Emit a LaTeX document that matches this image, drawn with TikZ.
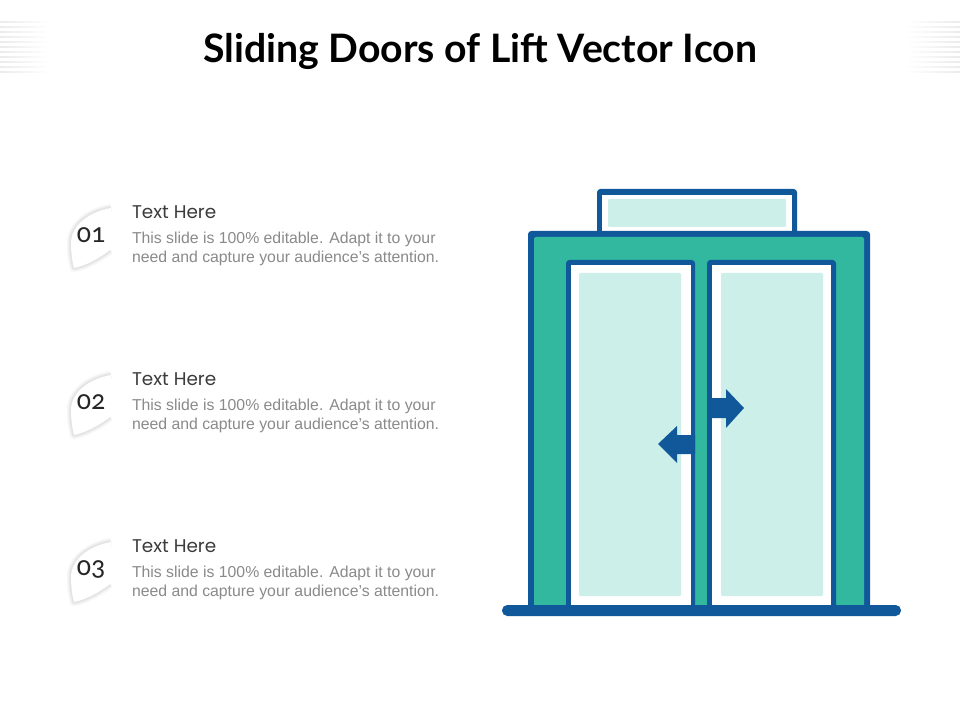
\documentclass[tikz,border=0pt]{standalone}
\usepackage{fontspec}
\setmainfont{Liberation Sans}
\newfontfamily\titlefont{Lato}
\newfontfamily\headfont{Poppins}
\newfontfamily\numfont[Numbers=OldStyle]{Carlito}
\definecolor{liftblue}{HTML}{11589B}
\definecolor{liftteal}{HTML}{31B89F}
\definecolor{liftpale}{HTML}{CCF0E9}
\definecolor{bodygrey}{HTML}{8A8A8A}
\definecolor{headgrey}{HTML}{3C3C3C}
\definecolor{stripegrey}{HTML}{EBEBEB}
\begin{document}
\begin{tikzpicture}[
            x = 0.75pt,
            y = -0.75pt,
            line width = 0pt,
            panel/.style = {fill=liftblue, rounded corners=2.5pt},
            glass/.style = {fill=liftpale, rounded corners=0.8pt},
            headtext/.style = {anchor=west, inner sep=0pt, font=\headfont\fontsize{13.8}{16}\selectfont, text=headgrey},
            bodytext/.style = {anchor=north west, inner sep=0pt, align=left, font=\fontsize{11.85}{14.2}\selectfont, text=bodygrey},
            numtext/.style = {inner sep=0pt, font=\numfont\fontsize{21}{21}\selectfont, text=black!85}
        ]
\useasboundingbox (0,0) rectangle (960,720);
\fill[white] (0,0) rectangle (960,720);

% corner stripes
\foreach \y in {22,27,...,72} {
  \path[left color=stripegrey, right color=white] (0,\y) rectangle (50,\y+1);
  \path[left color=white, right color=stripegrey] (905,\y) rectangle (960,\y+1);
}

\node[inner sep=0pt, font=\titlefont\bfseries\fontsize{29.4}{34}\selectfont, text=black] (title) at (480,51) {Sliding Doors of Lift Vector Icon};

% list on the left
\foreach \n/\dy in {01/0,02/167,03/334} {
  \begin{scope}[yshift=-0.75*\dy pt]
    \foreach \w/\o in {9/0.02,7/0.025,5/0.03,3/0.035}
      \draw[black, opacity=\o, line width=\w*0.75pt, line join=round]
        (111,208) .. controls (88,212) and (71,226) .. (71,243)
        .. controls (71,252) and (72,260) .. (74,268)
        .. controls (85,266) and (100,258) .. (110,250);
    \fill[white] (111,208) .. controls (88,212) and (71,226) .. (71,243)
        .. controls (71,252) and (72,260) .. (74,268)
        .. controls (85,266) and (100,258) .. (110,250) -- cycle;
  \end{scope}
  \node[numtext] (num\n) at (91,235+\dy) {\n};
  \node[headtext] (head\n) at (132,212.5+\dy) {Text Here};
  \node[bodytext] (body\n) at (132,232+\dy) {This slide is 100\% editable. Adapt it to your\\need and capture your audience’s attention.};
}

% sign above the lift
\path[panel] (597,189) rectangle (797,236);
\fill[white] (602,195) rectangle (792,232);
\path[glass] (608,199) rectangle (786,227);

% frame
\path[panel] (528,231) rectangle (870,610);
\path[fill=liftteal, rounded corners=1.5pt] (534,237) rectangle (864,610);

% doors
\path[panel] (566,260) rectangle (695,610);
\fill[white] (571,265) rectangle (691,610);
\path[glass] (579,273) rectangle (681,596);
\path[panel] (707,260) rectangle (836,610);
\fill[white] (712,265) rectangle (831,610);
\path[glass] (721,273) rectangle (823,596);

% arrows
\fill[liftblue] (712,398) -- (726,398) -- (726,389) -- (744,408) -- (726,428) -- (726,418) -- (712,418) -- cycle;
\fill[liftblue] (695,435) -- (677,435) -- (677,426) -- (658,444) -- (677,463) -- (677,454) -- (695,454) -- cycle;

% floor
\path[fill=liftblue, rounded corners=4pt] (502,605) rectangle (901,616);
\end{tikzpicture}
\end{document}
